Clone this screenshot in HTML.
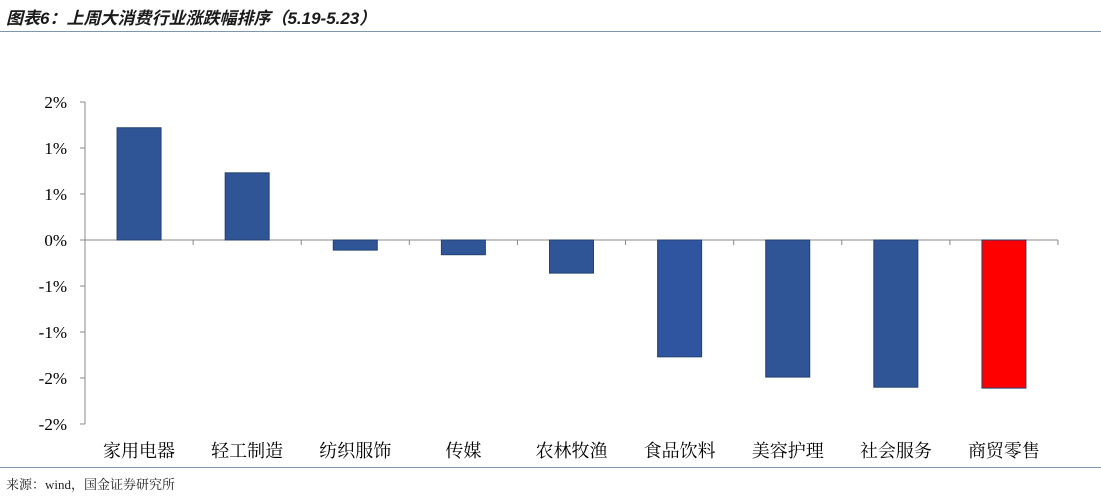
<!DOCTYPE html>
<html><head><meta charset="utf-8"><style>
body{margin:0;background:#fff;width:1101px;height:498px;overflow:hidden;font-family:"Liberation Sans","Noto Sans CJK SC",sans-serif;}
#title{position:absolute;left:6px;top:4px;font-size:17px;font-weight:bold;font-style:italic;color:#1a1a1a;font-family:"Liberation Sans","Noto Sans CJK SC",sans-serif;}
#src{position:absolute;left:6px;top:474px;font-size:13px;color:#222;font-family:"Liberation Serif","Noto Serif CJK SC",serif;}
.hr{position:absolute;left:0;width:1101px;height:1px;background:#7f95b0;}
svg{position:absolute;left:0;top:0}
</style></head><body>
<div id="title">图表6：上周大消费行业涨跌幅排序（5.19-5.23）</div>
<div class="hr" style="top:31px"></div>
<div class="hr" style="top:467px"></div>
<div id="src">来源：wind，国金证券研究所</div>
<svg id="c" width="1101" height="498"></svg>
<script>
const categories=["家用电器","轻工制造","纺织服饰","传媒","农林牧渔","食品饮料","美容护理","社会服务","商贸零售"];
const values=[1.22,0.73,-0.11,-0.16,-0.36,-1.27,-1.49,-1.60,-1.61];
const colors=["#2f5597","#2f5597","#2f5597","#2f5597","#2f5597","#2f55a0","#2f5597","#2f5597","#ff0000"];
const ticks=[1.5,1.0,0.5,0,-0.5,-1.0,-1.5,-2.0];
const tickLabels=["2%","1%","1%","0%","-1%","-1%","-2%","-2%"];
const svg=document.getElementById('c');const NS="http://www.w3.org/2000/svg";
const x0=85,x1=1058,yTop=102,yBot=424,vMax=1.5,vMin=-2.0;
const y=v=>yTop+(vMax-v)/(vMax-vMin)*(yBot-yTop);
const bw=(x1-x0)/categories.length;
const xc=i=>x0+bw*(i+0.5);
function el(t,a){const e=document.createElementNS(NS,t);for(const k in a)e.setAttribute(k,a[k]);svg.appendChild(e);return e;}
let ax=el('line',{x1:x0,y1:yTop,x2:x0,y2:yBot,stroke:'#888','stroke-width':1});


ticks.forEach((t,i)=>{
 let tk=el('line',{x1:x0-5,y1:y(t),x2:x0,y2:y(t),stroke:'#888'});
 
 
 let tx=el('text',{x:x0-18,y:y(t)+6,'text-anchor':'end','font-size':17,fill:'#000','font-family':'Liberation Serif,serif'});
 tx.textContent=tickLabels[i];
 
 
});
let zx=el('line',{x1:x0,y1:y(0),x2:x1,y2:y(0),stroke:'#888'});


categories.forEach((c,i)=>{
 const v=values[i];const top=Math.min(y(v),y(0));const h=Math.abs(y(v)-y(0));
 let b=el('rect',{x:xc(i)-22,y:top,width:44,height:h,fill:colors[i],stroke:'#24426f','stroke-width':1});
 
 
 let tk=el('line',{x1:x0+bw*(i+1),y1:y(0),x2:x0+bw*(i+1),y2:y(0)+5,stroke:'#888'});
 
 
 let tx=el('text',{x:xc(i),y:457,'text-anchor':'middle','font-size':18,fill:'#000','font-family':'Noto Serif CJK SC,serif'});
 tx.textContent=c;
 
 
});
</script>
</body></html>
